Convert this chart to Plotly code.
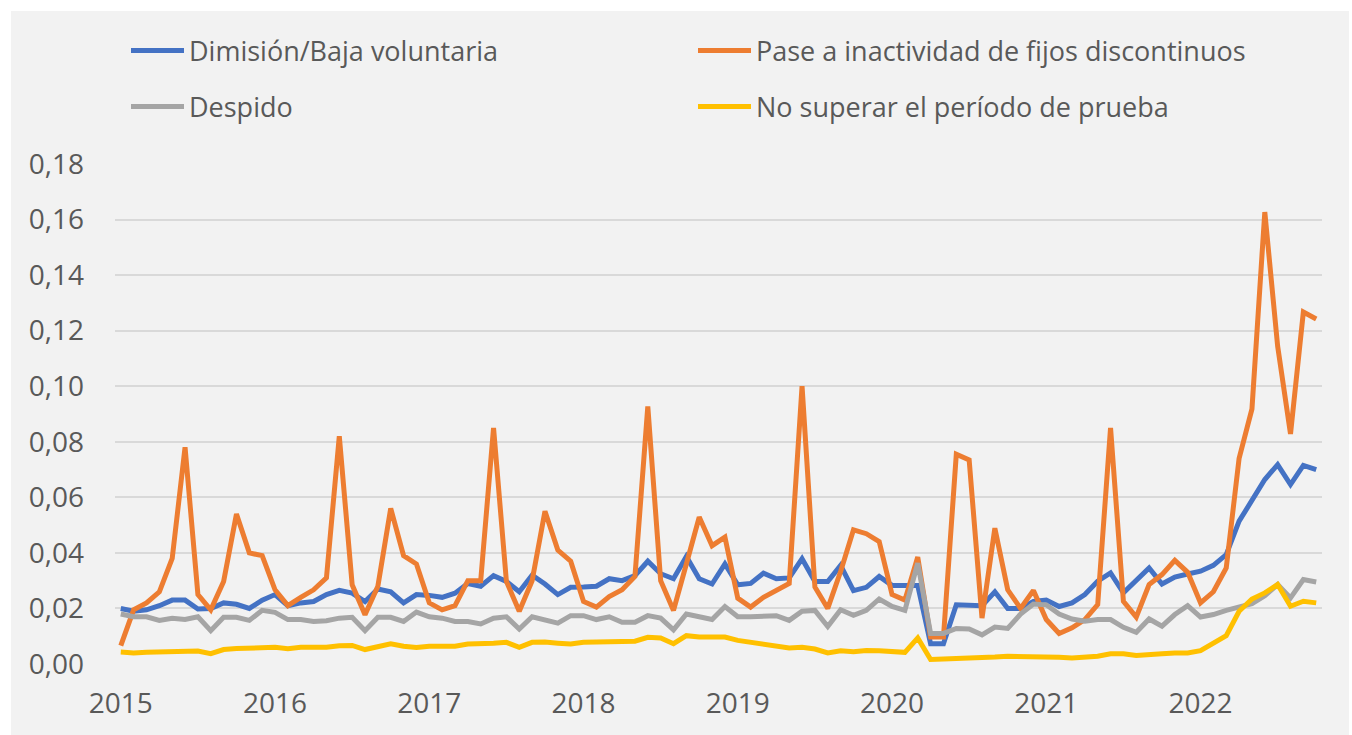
import plotly.graph_objects as go
import pandas as pd

months = [d.strftime("%Y-%m") for d in pd.date_range("2015-01-01", "2022-10-01", freq="MS")]
year_ticks = ["2015-01", "2016-01", "2017-01", "2018-01", "2019-01", "2020-01", "2021-01", "2022-01"]
year_labels = ["2015", "2016", "2017", "2018", "2019", "2020", "2021", "2022"]

dimision = [
    0.020, 0.019, 0.0195, 0.021, 0.023, 0.023, 0.0198, 0.020, 0.022, 0.0215, 0.020, 0.023,
    0.025, 0.021, 0.022, 0.0225, 0.025, 0.0265, 0.0255, 0.0225, 0.027, 0.026, 0.022, 0.025,
    0.0247, 0.024, 0.0255, 0.029, 0.028, 0.0318, 0.0297, 0.026, 0.032, 0.0288, 0.025, 0.0276,
    0.0277, 0.028, 0.0307, 0.030, 0.0318, 0.037, 0.0325, 0.0307, 0.0387, 0.0307, 0.0288, 0.036,
    0.0285, 0.029, 0.0327, 0.0307, 0.031, 0.0379, 0.0297, 0.0297, 0.0355, 0.0264, 0.0276, 0.0315,
    0.0283, 0.0283, 0.0283, 0.0073, 0.0073, 0.0213, 0.021, 0.021, 0.026, 0.020, 0.020, 0.0225,
    0.023, 0.0207, 0.022, 0.025, 0.0298, 0.0328, 0.0256, 0.0304, 0.0346, 0.0288, 0.0313, 0.0324,
    0.0334, 0.0355, 0.0394, 0.0514, 0.0586, 0.0664, 0.0718, 0.0646, 0.0715, 0.070,
]
fijos_discontinuos = [
    0.0066, 0.0195, 0.022, 0.026, 0.038, 0.078, 0.025, 0.0195, 0.0297, 0.054, 0.040, 0.039,
    0.0267, 0.021, 0.024, 0.0267, 0.031, 0.082, 0.0285, 0.0177, 0.028, 0.056, 0.039, 0.036,
    0.022, 0.0195, 0.021, 0.030, 0.030, 0.085, 0.0297, 0.019, 0.030, 0.055, 0.041, 0.037,
    0.0225, 0.0205, 0.0243, 0.0267, 0.0315, 0.0927, 0.030, 0.0193, 0.036, 0.0529, 0.0426, 0.0457,
    0.0237, 0.0205, 0.024, 0.0267, 0.029, 0.100, 0.0277, 0.020, 0.0333, 0.0483, 0.0469, 0.0441,
    0.025, 0.023, 0.0385, 0.0097, 0.0097, 0.0755, 0.0735, 0.0165, 0.0489, 0.0267, 0.020, 0.0265,
    0.016, 0.011, 0.013, 0.016, 0.0214, 0.085, 0.0226, 0.0169, 0.0286, 0.0322, 0.0373, 0.033,
    0.022, 0.026, 0.0346, 0.074, 0.0918, 0.1627, 0.1144, 0.0828, 0.1267, 0.1242,
]
despido = [
    0.018, 0.017, 0.017, 0.0157, 0.0165, 0.016, 0.017, 0.012, 0.0168, 0.0168, 0.0157, 0.0193,
    0.0186, 0.016, 0.016, 0.0153, 0.0156, 0.0165, 0.0168, 0.012, 0.0168, 0.0168, 0.0153, 0.0187,
    0.017, 0.0165, 0.0153, 0.0153, 0.0144, 0.0165, 0.017, 0.0126, 0.017, 0.016, 0.0147, 0.0174,
    0.0174, 0.016, 0.017, 0.015, 0.015, 0.0174, 0.0165, 0.0123, 0.018, 0.017, 0.016, 0.0207,
    0.017, 0.017, 0.017, 0.0174, 0.0157, 0.019, 0.0193, 0.0135, 0.0195, 0.0175, 0.0193, 0.0234,
    0.0207, 0.0193, 0.0363, 0.011, 0.011, 0.0128, 0.0126, 0.0105, 0.0133, 0.0128, 0.018, 0.0216,
    0.0213, 0.018, 0.0162, 0.0154, 0.016, 0.016, 0.0132, 0.0114, 0.0162, 0.0136, 0.0178, 0.021,
    0.0169, 0.0178, 0.0193, 0.0204, 0.0217, 0.0246, 0.0286, 0.0238, 0.0304, 0.0295,
]
periodo_prueba = [
    0.0043, 0.0040, 0.0042, 0.0044, 0.0047, 0.0047, 0.0047, 0.0037, 0.0052, 0.0056, 0.0056, 0.0056,
    0.0060, 0.0055, 0.0060, 0.0060, 0.0060, 0.0066, 0.0067, 0.0052, 0.0064, 0.0073, 0.0064, 0.0059,
    0.0064, 0.0066, 0.0064, 0.0072, 0.0072, 0.0075, 0.0078, 0.0060, 0.0078, 0.0079, 0.0075, 0.0072,
    0.0078, 0.0078, 0.0082, 0.0082, 0.0082, 0.0096, 0.0094, 0.0073, 0.0102, 0.0097, 0.0096, 0.0097,
    0.0085, 0.0078, 0.0070, 0.0064, 0.0058, 0.0060, 0.0054, 0.0040, 0.0048, 0.0044, 0.0049, 0.0048,
    0.0043, 0.0042, 0.0094, 0.0016, 0.0018, 0.0019, 0.0020, 0.0023, 0.0025, 0.0028, 0.0028, 0.0024,
    0.0024, 0.0024, 0.0022, 0.0025, 0.0028, 0.0037, 0.0037, 0.0031, 0.0036, 0.0037, 0.0040, 0.0040,
    0.0048, 0.0076, 0.0102, 0.0190, 0.0234, 0.0256, 0.0286, 0.0208, 0.0226, 0.0220,
]

series = [
    ("Dimisión/Baja voluntaria", dimision, "#4472C4", "legend"),
    ("Pase a inactividad de fijos discontinuos", fijos_discontinuos, "#ED7D31", "legend"),
    ("Despido", despido, "#A5A5A5", "legend2"),
    ("No superar el período de prueba", periodo_prueba, "#FFC000", "legend2"),
]

FONT = "Open Sans"
TXT = "#595959"

fig = go.Figure()
for name, vals, color, lg in series:
    fig.add_trace(go.Scatter(
        x=months, y=vals, name=name, mode="lines",
        line=dict(color=color, width=5),
        legend=lg,
    ))

W, H = 1352, 735
L, R, T, B = 115, 30, 164, 71
pw, ph = W - L - R, H - T - B

def fx(px):
    return (px - L) / pw

def fy(py):
    return (H - B - py) / ph

legend_common = dict(
    orientation="h", xanchor="left", yanchor="middle",
    font=dict(family=FONT, size=27, color=TXT),
    itemwidth=53, entrywidth=499, entrywidthmode="pixels",
    bgcolor="rgba(0,0,0,0)", borderwidth=0, itemclick=False,
)

fig.update_layout(
    width=W, height=H,
    margin=dict(l=L, r=R, t=T, b=B),
    paper_bgcolor="white",
    plot_bgcolor="rgba(0,0,0,0)",
    separators=",.",
    font=dict(family=FONT, color=TXT),
    legend=dict(x=fx(126), y=fy(51), **legend_common),
    legend2=dict(x=fx(126), y=fy(107), **legend_common),
    shapes=[dict(
        type="rect", xref="paper", yref="paper", layer="below",
        x0=fx(11), x1=fx(1349), y0=fy(735), y1=fy(11),
        fillcolor="#F2F2F2", line=dict(width=0),
    )],
    xaxis=dict(
        type="category", range=[-0.45, len(months) - 0.55],
        tickmode="array", tickvals=year_ticks, ticktext=year_labels,
        showgrid=False, zeroline=False, showline=False,
        tickfont=dict(family=FONT, size=28, color=TXT),
        ticks="", ticklabelstandoff=20,
    ),
    yaxis=dict(
        range=[0, 0.18], tickvals=[0, 0.02, 0.04, 0.06, 0.08, 0.10, 0.12, 0.14, 0.16, 0.18],
        tickformat=".2f", showgrid=True, gridcolor="#D9D9D9", gridwidth=1.5,
        zeroline=False, showline=False,
        tickfont=dict(family=FONT, size=28, color=TXT),
        ticks="", ticklabelstandoff=30,
    ),
)

fig.write_html(
    "out.html",
    config={"displayModeBar": False},
    post_script="document.body.style.margin='0';document.body.style.overflow='hidden';",
)
